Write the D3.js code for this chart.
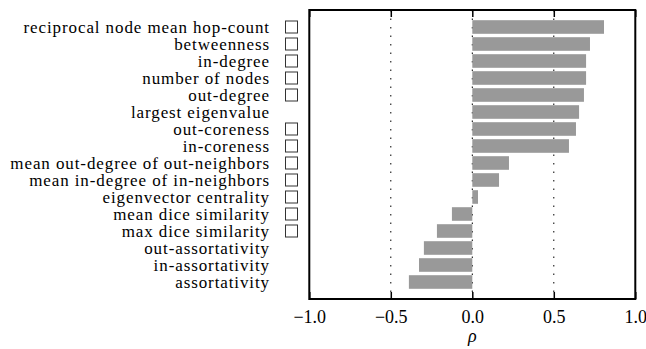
<!DOCTYPE html>
<html>
<head>
<meta charset="utf-8">
<script src="https://cdn.jsdelivr.net/npm/d3@7"></script>
<style>
  body { margin: 0; background: #fff; }
</style>
</head>
<body>
<script>
const labels = [
  'reciprocal node mean hop-count',
  'betweenness',
  'in-degree',
  'number of nodes',
  'out-degree',
  'largest eigenvalue',
  'out-coreness',
  'in-coreness',
  'mean out-degree of out-neighbors',
  'mean in-degree of in-neighbors',
  'eigenvector centrality',
  'mean dice similarity',
  'max dice similarity',
  'out-assortativity',
  'in-assortativity',
  'assortativity'
];
const rho = [0.808, 0.722, 0.698, 0.698, 0.685, 0.655, 0.636, 0.593,
  0.225, 0.164, 0.035, -0.125, -0.217, -0.297, -0.327, -0.389];
const checked = [true, true, true, true, true, false, true, true,
  true, true, true, true, true, false, false, false];
const xTicks = [-1.0, -0.5, 0.0, 0.5, 1.0];
const gridTicks = [-0.5, 0.0, 0.5];

const serif = "'Liberation Serif', 'Times New Roman', serif";

const width = 646;
const height = 349;
const marginTop = 10;
const marginRight = 10.7;
const marginBottom = 50;
const marginLeft = 309.3;

const x = d3.scaleLinear()
  .domain([-1, 1])
  .range([marginLeft, width - marginRight]);

const y = d3.scaleLinear()
  .domain([-1, labels.length])
  .range([marginTop, height - marginBottom]);

const bandH = y(0.8) - y(0);

const svg = d3.select('body').append('svg')
  .attr('width', width)
  .attr('height', height)
  .attr('viewBox', [0, 0, width, height]);

// dotted grid lines
svg.append('g')
  .selectAll()
  .data(gridTicks)
  .join('line')
  .attr('x1', (d) => x(d))
  .attr('x2', (d) => x(d))
  .attr('y1', marginTop)
  .attr('y2', height - marginBottom)
  .attr('stroke', '#000')
  .attr('stroke-width', 1)
  .attr('stroke-dasharray', '1.5,7');

// bars
svg.append('g')
  .attr('fill', '#999999')
  .selectAll()
  .data(rho)
  .join('rect')
  .attr('x', (d) => x(Math.min(0, d)))
  .attr('y', (d, i) => y(i) - bandH / 2)
  .attr('width', (d) => Math.abs(x(d) - x(0)))
  .attr('height', bandH);

// row labels
svg.append('g')
  .selectAll()
  .data(labels)
  .join('text')
  .attr('x', 270)
  .attr('y', (d, i) => y(i))
  .attr('dy', '0.33em')
  .attr('text-anchor', 'end')
  .attr('fill', '#000')
  .style('font-family', serif)
  .style('font-size', '17px')
  .style('letter-spacing', '0.9px')
  .text((d) => d);

// check boxes
svg.append('g')
  .selectAll()
  .data(checked.map((c, i) => ({ c, i })).filter((d) => d.c))
  .join('rect')
  .attr('x', 285.5)
  .attr('y', (d) => y(d.i) - 6)
  .attr('width', 12)
  .attr('height', 12)
  .attr('fill', 'none')
  .attr('stroke', '#333')
  .attr('stroke-width', 1);

// bottom axis
const gBottom = svg.append('g')
  .attr('transform', `translate(0,${height - marginBottom})`)
  .call(d3.axisBottom(x).tickValues(xTicks).tickFormat(d3.format('.1f'))
    .tickSizeInner(-7).tickSizeOuter(0).tickPadding(11))
  .call((g) => g.select('.domain').remove());
gBottom.selectAll('.tick line').attr('stroke', '#000').attr('stroke-width', 1.5);
gBottom.selectAll('.tick text')
  .attr('fill', '#000')
  .style('font-family', serif)
  .style('font-size', '18px');

// top axis (ticks only)
svg.append('g')
  .attr('transform', `translate(0,${marginTop})`)
  .call(d3.axisTop(x).tickValues(xTicks).tickFormat('')
    .tickSizeInner(-7).tickSizeOuter(0))
  .call((g) => g.select('.domain').remove())
  .call((g) => g.selectAll('.tick line').attr('stroke', '#000').attr('stroke-width', 1.5));

// frame
svg.append('rect')
  .attr('x', marginLeft)
  .attr('y', marginTop)
  .attr('width', width - marginLeft - marginRight)
  .attr('height', height - marginTop - marginBottom)
  .attr('fill', 'none')
  .attr('stroke', '#000')
  .attr('stroke-width', 2);

// x label
svg.append('text')
  .attr('x', x(0))
  .attr('y', 342)
  .attr('text-anchor', 'middle')
  .style('font-family', serif)
  .style('font-size', '18px')
  .style('font-style', 'italic')
  .text('ρ');
</script>
</body>
</html>
